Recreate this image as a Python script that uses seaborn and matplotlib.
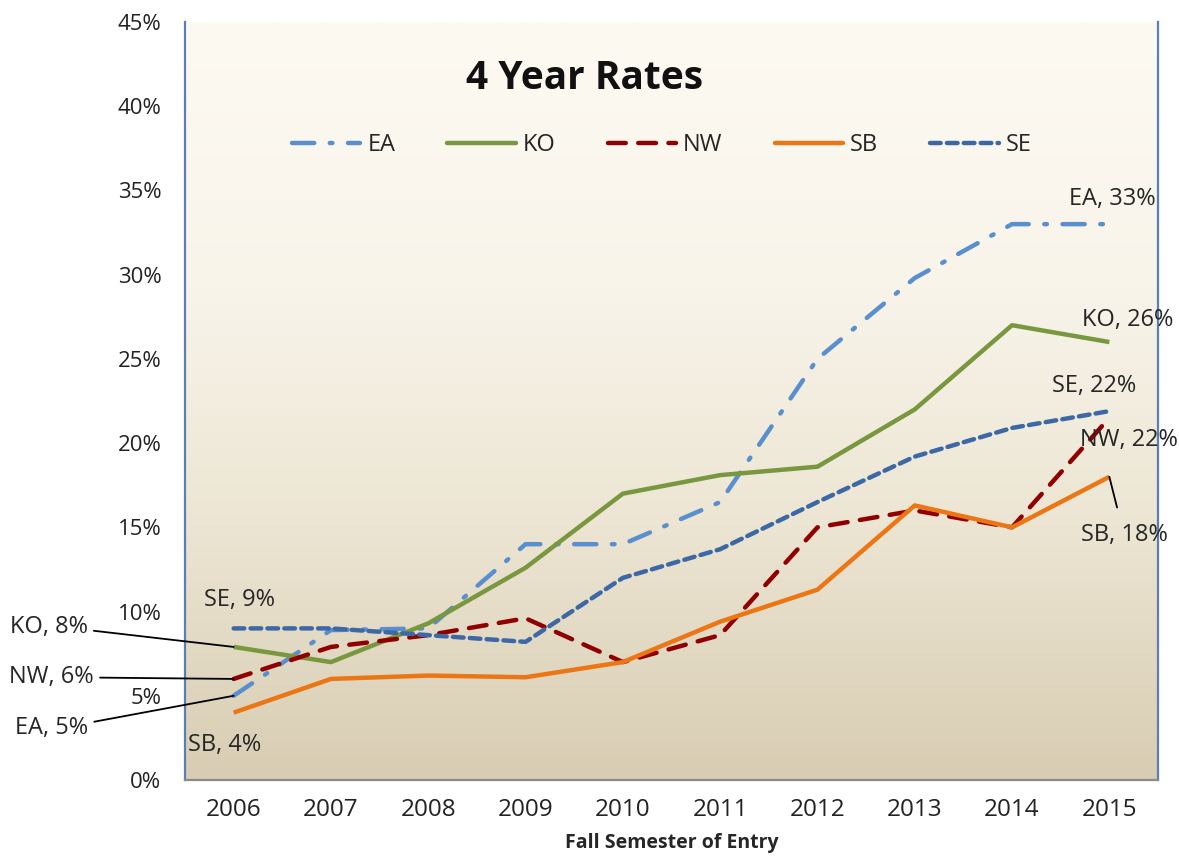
import numpy as np
import pandas as pd
import matplotlib
matplotlib.use("Agg")
import matplotlib.pyplot as plt
import seaborn as sns
from matplotlib.colors import LinearSegmentedColormap
from matplotlib.lines import Line2D

years = ["2006", "2007", "2008", "2009", "2010", "2011", "2012", "2013", "2014", "2015"]
ea = [5.0, 8.9, 9.0, 14.0, 14.0, 16.5, 25.0, 29.8, 33.0, 33.0]
ko = [7.9, 7.0, 9.3, 12.6, 17.0, 18.1, 18.6, 22.0, 27.0, 26.0]
nw = [6.0, 7.9, 8.6, 9.6, 7.0, 8.6, 15.0, 16.0, 15.0, 21.5]
sb = [4.0, 6.0, 6.2, 6.1, 7.0, 9.4, 11.3, 16.3, 15.0, 18.0]
se = [9.0, 9.0, 8.6, 8.2, 12.0, 13.7, 16.5, 19.2, 20.9, 21.9]
series_names = ["EA", "KO", "NW", "SB", "SE"]
end_labels = ["EA, 33%", "KO, 26%", "NW, 22%", "SB, 18%", "SE, 22%"]
start_labels = ["EA, 5%", "KO, 8%", "NW, 6%", "SB, 4%", "SE, 9%"]

sns.set_theme(style="white")
plt.rcParams["font.family"] = ["Open Sans", "DejaVu Sans"]

data = {"EA": ea, "KO": ko, "NW": nw, "SB": sb, "SE": se}
rows = []
for name in series_names:
    for i, v in enumerate(data[name]):
        rows.append({"year": i, "rate": v, "series": name})
df = pd.DataFrame(rows)

palette = {"EA": "#5a8fcf", "KO": "#78973e", "NW": "#900000", "SB": "#ec7514", "SE": "#3d68a6"}
dashes = {"EA": (5, 3.5, 0.6, 3.5), "KO": "", "NW": (4, 2.8), "SB": "", "SE": (2.4, 1.4)}

fig = plt.figure(figsize=(11.79, 8.68), dpi=100)
fig.patch.set_facecolor("white")
ax = fig.add_axes([185 / 1179, 1 - 780 / 868, (1158 - 185) / 1179, (780 - 22) / 868])

# background gradient (light at top, tan at bottom)
cmap = LinearSegmentedColormap.from_list(
    "bg", [(0.0, "#fdfaf2"), (0.35, "#f8f4ea"), (0.65, "#ede6d4"), (1.0, "#d8cdb3")])
grad = np.linspace(0, 1, 256).reshape(-1, 1)
ax.imshow(grad, cmap=cmap, aspect="auto", extent=[0, 1, 0, 1], origin="upper",
          transform=ax.transAxes, zorder=0)

sns.lineplot(data=df, x="year", y="rate", hue="series", style="series",
             palette=palette, dashes=dashes, linewidth=3.2, ax=ax,
             legend=False, zorder=3)
for ln in ax.get_lines():
    ln.set_dash_capstyle("round")
    ln.set_solid_capstyle("butt")

ax.set_xlim(-0.5, 9.5)
ax.set_ylim(0, 45)
ax.set_yticks(range(0, 46, 5))
ax.set_yticklabels([f"{t}%" for t in range(0, 46, 5)], fontsize=16, color="#222222")
ax.set_xticks(range(10))
ax.set_xticklabels(years, fontsize=17.5, color="#222222")
ax.set_xticks(np.arange(-0.5, 10, 1), minor=True)
ax.tick_params(axis="x", which="major", length=0, pad=13)
ax.tick_params(axis="x", which="minor", length=7, color="#888888", width=1.2, direction="out")
ax.tick_params(axis="y", which="major", length=6, color="#5a7fb5", width=1.5, direction="out", pad=11)
ax.grid(False)
ax.set_xlabel("Fall Semester of Entry", fontsize=14, fontweight="bold", labelpad=8)
ax.set_ylabel("")

for s in ["left", "right"]:
    ax.spines[s].set_color("#5a7fb5")
    ax.spines[s].set_linewidth(1.6)
ax.spines["bottom"].set_color("#8a8a8a")
ax.spines["bottom"].set_linewidth(1.6)
ax.spines["top"].set_visible(False)

ax.text(0.411, 0.925, "4 Year Rates", transform=ax.transAxes, fontsize=28,
        fontweight="bold", ha="center", va="center", color="#111111")

handles = [Line2D([0], [0], color=palette[n], lw=3.2,
                  linestyle=((0, dashes[n]) if dashes[n] else "-"),
                  dash_capstyle="round") for n in series_names]
ax.legend(handles, series_names, loc="center", bbox_to_anchor=(0.49, 0.838),
          ncol=5, frameon=False, fontsize=17, handlelength=2.9, columnspacing=2.2,
          handletextpad=0.3)

# end labels
fs = 17
last = {n: data[n][-1] for n in series_names}
ax.annotate(end_labels[0], xy=(9, last["EA"]), xytext=(9.03, 34.5), fontsize=fs,
            ha="center", va="center", zorder=5)
ax.annotate(end_labels[1], xy=(9, last["KO"]), xytext=(9.19, 27.3), fontsize=fs,
            ha="center", va="center", zorder=5)
ax.annotate(end_labels[4], xy=(9, last["SE"]), xytext=(8.84, 23.4), fontsize=fs,
            ha="center", va="center", zorder=5)
ax.annotate(end_labels[2], xy=(9, last["NW"]), xytext=(9.2, 20.2), fontsize=fs,
            ha="center", va="center", zorder=5)
ax.annotate(end_labels[3], xy=(9, last["SB"]), xytext=(9.15, 14.55), fontsize=fs,
            ha="center", va="center", zorder=5,
            arrowprops=dict(arrowstyle="-", color="black", lw=1.3, shrinkA=9, shrinkB=0))

# start labels
first = {n: data[n][0] for n in series_names}
ax.annotate(start_labels[4], xy=(0, first["SE"]), xytext=(0.06, 10.7), fontsize=fs,
            ha="center", va="center", zorder=5)
ax.annotate(start_labels[3], xy=(0, first["SB"]), xytext=(-0.09, 2.08), fontsize=fs,
            ha="center", va="center", zorder=5)
conn = "arc,angleA=0,armA=10,angleB=0,armB=0,rad=0"
ax.annotate(start_labels[1], xy=(0, first["KO"]), xytext=(-1.9, 9.1), fontsize=fs,
            ha="center", va="center", zorder=5, annotation_clip=False,
            arrowprops=dict(arrowstyle="-", color="black", lw=1.3, shrinkA=2, shrinkB=0,
                            connectionstyle=conn))
ax.annotate(start_labels[2], xy=(0, first["NW"]), xytext=(-1.87, 6.1), fontsize=fs,
            ha="center", va="center", zorder=5, annotation_clip=False,
            arrowprops=dict(arrowstyle="-", color="black", lw=1.3, shrinkA=2, shrinkB=0,
                            connectionstyle=conn))
ax.annotate(start_labels[0], xy=(0, first["EA"]), xytext=(-1.87, 3.1), fontsize=fs,
            ha="center", va="center", zorder=5, annotation_clip=False,
            arrowprops=dict(arrowstyle="-", color="black", lw=1.3, shrinkA=2, shrinkB=0,
                            connectionstyle=conn))

fig.savefig("out.png", dpi=100)
